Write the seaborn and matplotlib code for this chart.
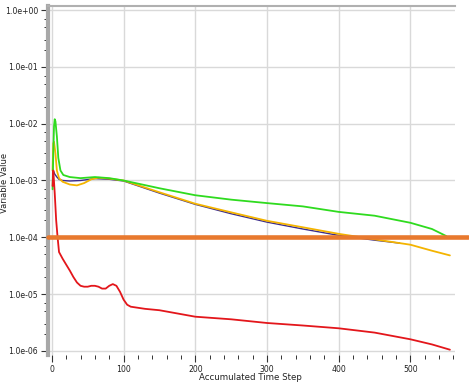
import numpy as np
import pandas as pd
import matplotlib
matplotlib.use("Agg")
import matplotlib.pyplot as plt
import matplotlib.ticker as mticker
import seaborn as sns

red_steps = [1, 2, 4, 6, 8, 10, 15, 20, 25, 30, 35, 40, 45, 50, 55, 60, 65, 70, 75, 80, 85, 90, 95, 100, 105, 110, 130, 150, 200, 250, 300, 350, 400, 450, 500, 530, 555]
red_vals = [8e-4, 1.5e-3, 6e-4, 2e-4, 1.0e-4, 5.5e-5, 4.2e-5, 3.3e-5, 2.6e-5, 2.0e-5, 1.6e-5, 1.4e-5, 1.35e-5, 1.35e-5, 1.4e-5, 1.4e-5, 1.35e-5, 1.25e-5, 1.25e-5, 1.4e-5, 1.5e-5, 1.4e-5, 1.1e-5, 8e-6, 6.5e-6, 6.0e-6, 5.5e-6, 5.2e-6, 4.0e-6, 3.6e-6, 3.1e-6, 2.8e-6, 2.5e-6, 2.1e-6, 1.6e-6, 1.3e-6, 1.05e-6]

green_steps = [1, 2, 3, 4, 5, 7, 9, 12, 16, 25, 40, 60, 80, 100, 150, 200, 250, 300, 350, 400, 450, 500, 530, 550]
green_vals = [7e-4, 3e-3, 9e-3, 1.2e-2, 1.1e-2, 6e-3, 2.5e-3, 1.5e-3, 1.25e-3, 1.15e-3, 1.1e-3, 1.15e-3, 1.1e-3, 1.0e-3, 7.3e-4, 5.5e-4, 4.6e-4, 4.0e-4, 3.5e-4, 2.8e-4, 2.4e-4, 1.8e-4, 1.4e-4, 1.05e-4]

yellow_steps = [1, 2, 3, 5, 7, 10, 15, 25, 35, 45, 55, 65, 80, 100, 150, 200, 250, 300, 350, 400, 450, 500, 530, 555]
yellow_vals = [1.5e-3, 4.5e-3, 4.8e-3, 3e-3, 1.5e-3, 1.1e-3, 9.5e-4, 8.5e-4, 8.2e-4, 9e-4, 1.05e-3, 1.12e-3, 1.08e-3, 1.0e-3, 6.2e-4, 3.9e-4, 2.75e-4, 1.95e-4, 1.5e-4, 1.15e-4, 9.2e-5, 7.4e-5, 5.8e-5, 4.8e-5]

navy_steps = [1, 2, 4, 7, 10, 15, 25, 40, 60, 80, 100, 150, 200, 250, 300, 350, 400, 450, 485]
navy_vals = [1.5e-3, 1.5e-3, 1.3e-3, 1.15e-3, 1.05e-3, 1.0e-3, 9.8e-4, 1.0e-3, 1.08e-3, 1.05e-3, 9.8e-4, 6.0e-4, 3.8e-4, 2.6e-4, 1.85e-4, 1.4e-4, 1.08e-4, 8.9e-5, 7.9e-5]

threshold = 1e-4

xticks = [0, 100, 200, 300, 400, 500]
yticks = [1e0, 1e-1, 1e-2, 1e-3, 1e-4, 1e-5, 1e-6]
ytick_labels = ["1.0e+00", "1.0e-01", "1.0e-02", "1.0e-03", "1.0e-04", "1.0e-05", "1.0e-06"]

series = [("navy", navy_steps, navy_vals), ("yellow", yellow_steps, yellow_vals),
          ("green", green_steps, green_vals), ("red", red_steps, red_vals)]
frames = []
for name, s, v in series:
    frames.append(pd.DataFrame({"step": s, "value": v, "series": name}))
df = pd.concat(frames, ignore_index=True)

sns.set_style("white")
plt.rcParams["font.family"] = ["DejaVu Sans"]

fig = plt.figure(figsize=(4.69, 3.82), dpi=100)
ax = fig.add_axes([0.102, 0.071, 0.868, 0.913])

palette = {"navy": "#3B2C8C", "yellow": "#F4B400", "green": "#2FDB1F", "red": "#E3161B"}
sns.lineplot(data=df, x="step", y="value", hue="series", hue_order=["navy", "yellow", "green", "red"],
             palette=palette, estimator=None, sort=False, legend=False, ax=ax, linewidth=1.3)
for ln in ax.lines:
    if matplotlib.colors.to_hex(ln.get_color()).lower() == palette["navy"].lower():
        ln.set_linewidth(1.0)

ax.plot([-6, 580], [threshold, threshold], color="#E8792E", linewidth=3.3, clip_on=False, zorder=5)

ax.set_yscale("log")
ax.set_xlim(-5.6, 562)
ax.set_ylim(10 ** -6.07, 10 ** 0.07)

ax.set_xticks(xticks)
ax.xaxis.set_minor_locator(mticker.MultipleLocator(20))
ax.set_yticks(yticks)
ax.set_yticklabels(ytick_labels)
ax.yaxis.set_minor_locator(mticker.LogLocator(base=10, subs=[2, 3, 5, 7], numticks=20))
ax.yaxis.set_minor_formatter(mticker.NullFormatter())

ax.tick_params(axis="both", which="major", direction="out", length=5, width=0.8, color="#333333",
               labelsize=5.6, labelcolor="#222222", pad=2)
ax.tick_params(axis="both", which="minor", direction="out", length=3, width=0.7, color="#333333")
ax.tick_params(axis="y", which="both", left=True)
ax.tick_params(axis="x", which="both", bottom=True)

ax.grid(True, which="major", color="#D9D9D9", linewidth=1.0)
ax.set_axisbelow(True)

for sp in ["right", "bottom"]:
    ax.spines[sp].set_visible(False)
ax.spines["left"].set_color("#A8A8A8")
ax.spines["left"].set_linewidth(3)
ax.spines["top"].set_color("#B0B0B0")
ax.spines["top"].set_linewidth(1.5)

ax.set_xlabel("")
ax.set_ylabel("")
fig.text(0.009, 0.52, "Variable Value", rotation=90, ha="center", va="center", fontsize=6, color="#222222")
fig.text(0.533, 0.024, "Accumulated Time Step", ha="center", va="top", fontsize=6.2, color="#222222")

fig.savefig("out.png", dpi=100)
